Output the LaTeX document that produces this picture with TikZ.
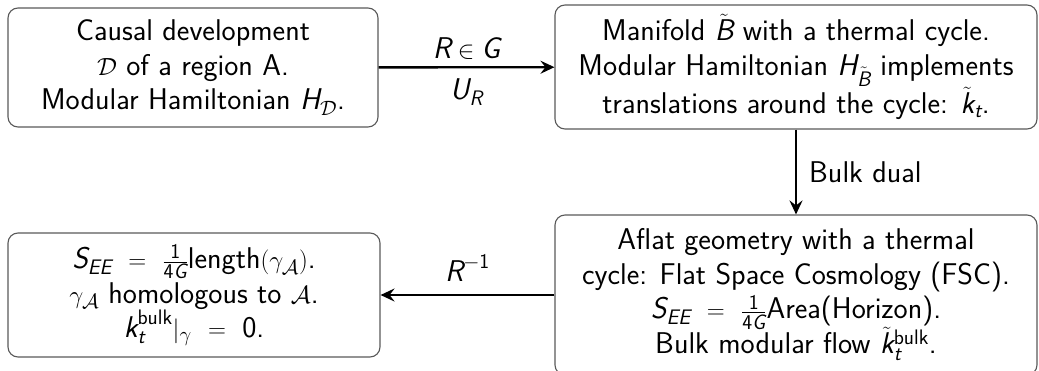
\documentclass[tikz,border=0pt]{standalone}
\usepackage{amsmath,amssymb}
\usepackage{fontspec}
\usetikzlibrary{arrows.meta}
\newcommand\vi[1]{\text{\itshape #1}}
\begin{document}
\begin{tikzpicture}[x=1pt,y=-1pt,
  box/.style={draw=black!65,line width=1.1pt,rounded corners=10pt,inner sep=0pt,align=center,
    font=\sffamily\fontsize{30}{34.5}\selectfont},
  arr/.style={line width=2.4pt,-{Stealth[length=14pt,width=13pt,inset=5pt]}},
  lab/.style={font=\sffamily\fontsize{30}{34}\selectfont,inner sep=0pt}]
\useasboundingbox (0,0) rectangle (1039,370);
\clip (0,0) rectangle (1039,370);
\node[box,minimum width=370pt,minimum height=119pt] (b1) at (193,67.5)
  {Causal development\\ $\mathcal{D}$ of a region A.\\ Modular Hamiltonian $\vi{H}_{\mathcal{D}}$.};
\node[box,minimum width=482pt,minimum height=124pt] (b2) at (796,67)
  {Manifold $\tilde{\vi{B}}$ with a thermal cycle.\\ Modular Hamiltonian $\vi{H}_{\tilde{\vi{B}}}$ implements\\ translations around the cycle: $\tilde{\vi{k}}_{\vi{t}}$.};
\node[box,minimum width=482pt,minimum height=160pt] (b3) at (796,295)
  {Aflat geometry with a thermal\\ cycle: Flat Space Cosmology (FSC).\\ $\vi{S}_{\vi{EE}}\ =\ \frac{\text{1}}{\text{4}\vi{G}}\text{Area(Horizon)}$.\\ Bulk modular flow $\smash[t]{\tilde{\vi{k}}}_{\vi{t}}^{\text{bulk}}$.};
\node[box,minimum width=372pt,minimum height=124pt] (b4) at (194,295)
  {$\vi{S}_{\vi{EE}}\ =\ \frac{\text{1}}{\text{4}\vi{G}}\text{length}(\gamma_{\mathcal{A}})$.\\ $\gamma_{\mathcal{A}}$ homologous to $\mathcal{A}$.\\ $\vi{k}_{\vi{t}}^{\text{bulk}}|_{\gamma}\ =\ \text{0}$.};
\draw[arr] (b1) -- (b2) node[lab,midway,above=7pt] (l1) {$\vi{R}\in\vi{G}$}
  node[lab,midway,below=10pt] (l2) {$\vi{U}_{\vi{R}}$};
\draw[arr] (b2) -- (b3) node[lab,midway,right=12pt] (l3) {Bulk dual};
\draw[arr] (b3) -- (b4) node[lab,midway,above=12pt] (l4) {$\vi{R}^{-\text{1}}$};
\end{tikzpicture}
\end{document}
